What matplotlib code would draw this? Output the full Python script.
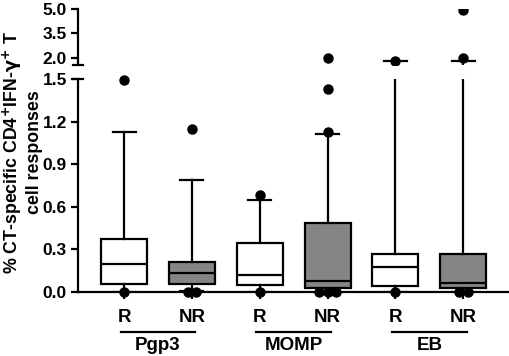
import matplotlib.pyplot as plt
import numpy as np

plt.rcParams.update({'font.family': 'Liberation Sans', 'font.weight': 'bold', 'font.size': 13})

# data
labels = ['R', 'NR', 'R', 'NR', 'R', 'NR']
groups = ['Pgp3', 'MOMP', 'EB']
filled = [False, True, False, True, False, True]
q1 = [0.056, 0.056, 0.05, 0.03, 0.04, 0.03]
med = [0.196, 0.135, 0.12, 0.08, 0.175, 0.065]
q3 = [0.37, 0.21, 0.345, 0.485, 0.27, 0.265]
whislo = [0.0, 0.01, 0.0, 0.0, 0.0, 0.0]
whishi = [1.13, 0.79, 0.65, 1.11, 1.80, 1.80]
points = [[1.49, 0.0], [1.15, 0.0, 0.0], [0.68, 0.0],
          [1.13, 1.43, 2.0, 0.0, 0.0, 0.0], [1.83, 0.0], [2.0, 4.95, 0.0, 0.0]]

pos = np.arange(1, len(labels) + 1)
W, H = 510, 356
fig = plt.figure(figsize=(W / 100, H / 100), dpi=100)
left, right = 78 / W, 508 / W
ax = fig.add_axes([left, 1 - 292 / H, right - left, (292 - 79) / H])
ax_top = fig.add_axes([left, 1 - 65 / H, right - left, (65 - 9) / H])

stats = []
for i in range(len(labels)):
    stats.append(dict(med=med[i], q1=q1[i], q3=q3[i], whislo=whislo[i], whishi=whishi[i], fliers=[]))

lw = 1.6
for a in (ax, ax_top):
    bp = a.bxp(stats, positions=pos, widths=0.68, patch_artist=True, showfliers=False,
               boxprops=dict(linewidth=lw, edgecolor='black'),
               medianprops=dict(color='black', linewidth=lw),
               whiskerprops=dict(linewidth=lw), capprops=dict(linewidth=lw))
    for patch, f in zip(bp['boxes'], filled):
        patch.set_facecolor('#858585' if f else 'white')
    a.set_xlim(0.32, 6.66)

ax.set_ylim(0, 1.5)
ax_top.set_ylim(1.571, 5.0)

# points: spread duplicates side by side
for p, vals in zip(pos, points):
    vals = np.array(vals)
    for v in np.unique(vals):
        n = np.sum(vals == v)
        xs = p + (np.arange(n) - (n - 1) / 2) * 0.13
        if v <= 1.5:
            ax.plot(xs, [v] * n, 'o', color='black', ms=6.5, clip_on=False, zorder=5)
        else:
            ax_top.plot(xs, [v] * n, 'o', color='black', ms=6.5, zorder=5)

for a in (ax, ax_top):
    for s in ['top', 'right']:
        a.spines[s].set_visible(False)
    a.spines['left'].set_linewidth(lw)
    a.tick_params(axis='y', width=lw, length=5, labelsize=12.5, pad=3)
ax.spines['bottom'].set_linewidth(lw)
ax_top.spines['bottom'].set_visible(False)
ax_top.set_xticks([])
ax_top.set_yticks([2.0, 3.5, 5.0])
ax_top.set_yticklabels(['2.0', '3.5', '5.0'])
ax.set_yticks([0, 0.3, 0.6, 0.9, 1.2, 1.5])
ax.set_yticklabels(['0.0', '0.3', '0.6', '0.9', '1.2', '1.5'])
ax.set_xticks(pos)
ax.set_xticklabels(labels, fontsize=13.5)
ax.tick_params(axis='x', width=lw, length=5, pad=7)

# break marks
for a, y in ((ax, 1.0), (ax_top, 0.0)):
    a.plot([-0.012, 0.012], [y, y], transform=a.transAxes, color='black', lw=lw, clip_on=False)

# group lines and names
tr = ax.get_xaxis_transform()
for k, g in enumerate(groups):
    x0, x1 = pos[2 * k], pos[2 * k + 1]
    ax.plot([x0 - 0.05, x1 + 0.05], [-0.188, -0.188], transform=tr, color='black', lw=lw, clip_on=False)
    ax.text((x0 + x1) / 2, -0.25, g, transform=tr, ha='center', va='center', fontsize=13.5)

fig.text(22 / W, 1 - 152 / H, '% CT-specific CD4$^{\\mathbf{+}}$IFN-$\\mathbf{\\gamma}^{\\mathbf{+}}$ T\ncell responses',
         rotation=90, ha='center', va='center', multialignment='center', fontsize=12.8, linespacing=1.15)

fig.savefig('out.png', dpi=100)
